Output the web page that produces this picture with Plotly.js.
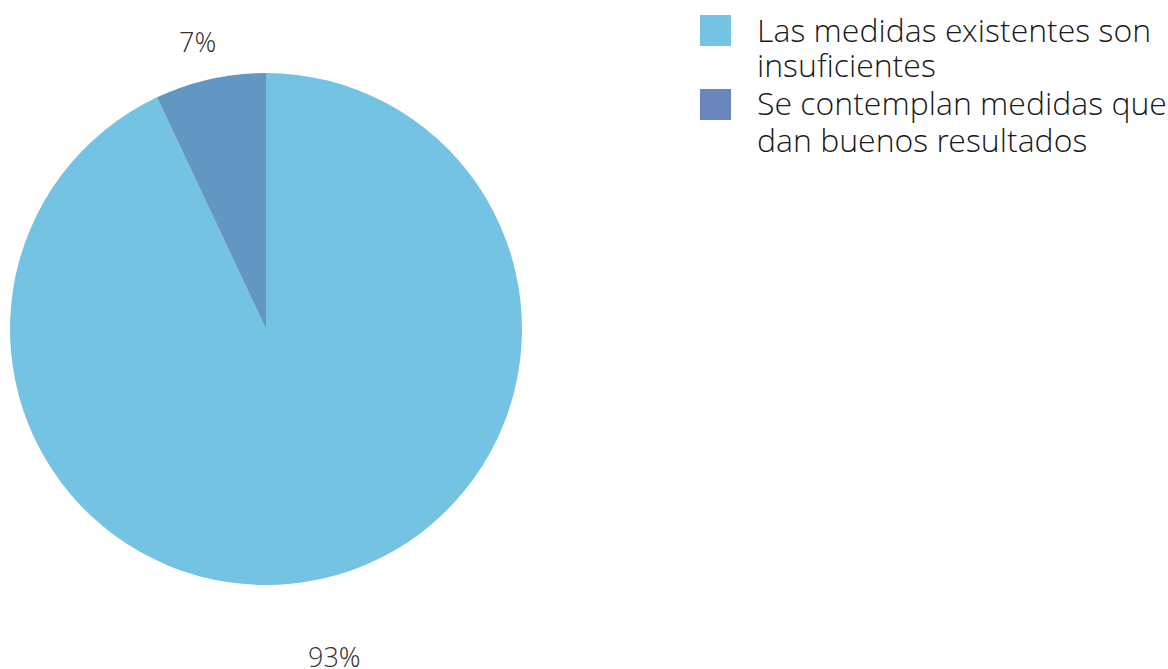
<!DOCTYPE html>
<html><head><meta charset="utf-8">
<script src="https://cdn.plot.ly/plotly-3.0.1.min.js"></script>
<style>html,body{margin:0;padding:0;background:#fff}#chart{width:1168px;height:669px}</style>
</head><body><div id="chart"></div>
<script>
const categories = ["Las medidas existentes son<br>insuficientes", "Se contemplan medidas que<br>dan buenos resultados"];
const values = [93, 7];
const labelsText = ["93%", "7%"];
const sliceColors = ["#74c3e2", "#6297c3"];
const legendColors = ["#74c3e2", "#6a85bb"];

const W = 1168, H = 669;
const px = x => x / W, py = y => 1 - y / H;
const FONT = "Open Sans Light, Open Sans, sans-serif";

// pie geometry (pixels)
const cx = 266, cy = 329, R = 256, labelFactor = 1.23, labelDy = 20;

const trace = {
  type: "pie",
  values: values,
  labels: categories,
  textinfo: "none",
  sort: false,
  direction: "clockwise",
  rotation: 0,
  marker: {colors: sliceColors, line: {width: 0}},
  domain: {x: [px(cx - R), px(cx + R)], y: [py(cy + R), py(cy - R)]},
  showlegend: false,
  hoverinfo: "none"
};

const shapes = [], annotations = [];
const total = values.reduce((a, b) => a + b, 0);
let cum = 0;
values.forEach((v, i) => {
  const mid = (cum + v / 2) / total;
  cum += v;
  const th = mid * 2 * Math.PI;
  const lx = cx + R * labelFactor * Math.sin(th);
  const ly = cy + labelDy - R * labelFactor * Math.cos(th);
  annotations.push({xref: "paper", yref: "paper", x: px(lx), y: py(ly),
    xanchor: "center", yanchor: "middle", showarrow: false, text: labelsText[i],
    font: {family: FONT, size: 27, color: "#333333", weight: 300}});
});

const legendTop = [15, 89];
const lineGap = 36;
categories.forEach((c, i) => {
  shapes.push({type: "rect", xref: "paper", yref: "paper",
    x0: px(700), x1: px(731), y0: py(legendTop[i] + 31), y1: py(legendTop[i]),
    fillcolor: legendColors[i], line: {width: 0}});
  c.split("<br>").forEach((ln, j) => {
    annotations.push({xref: "paper", yref: "paper", x: px(755), y: py(legendTop[i] + 14 + j * lineGap),
      xanchor: "left", yanchor: "middle", align: "left", showarrow: false, text: ln,
      font: {family: FONT, size: 32, color: "#1a1a1a", weight: 300}});
  });
});

Plotly.newPlot("chart", [trace], {
  width: W, height: H,
  margin: {l: 0, r: 0, t: 0, b: 0},
  paper_bgcolor: "#ffffff",
  showlegend: false,
  shapes: shapes,
  annotations: annotations
}, {staticPlot: true});
</script></body></html>
